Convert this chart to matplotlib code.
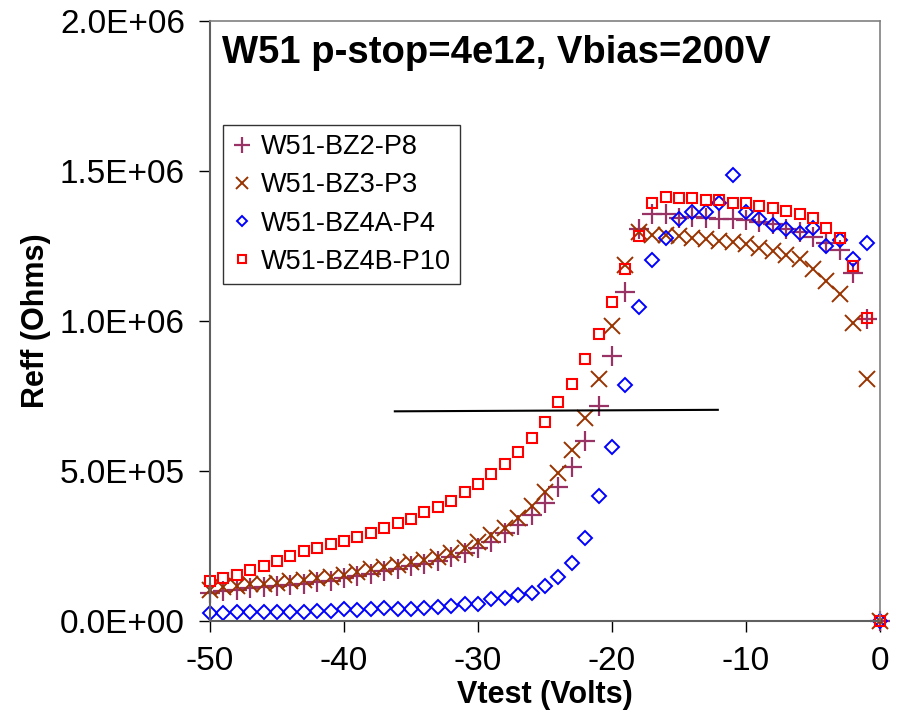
import numpy as np
import matplotlib
matplotlib.use("Agg")
import matplotlib.pyplot as plt
from matplotlib.ticker import FuncFormatter

plt.rcParams['font.family'] = ['Liberation Sans', 'DejaVu Sans']
plt.rcParams['axes.unicode_minus'] = False

# Vtest steps, -50 V .. 0 V
vtest = list(range(-50, 1))

# Reff in units of 1E6 Ohms
bz2_p8 = [0.095, 0.100, 0.105, 0.110, 0.113, 0.116, 0.120, 0.125, 0.130, 0.135,
          0.142, 0.150, 0.158, 0.166, 0.174, 0.182, 0.190, 0.200, 0.214, 0.226,
          0.245, 0.265, 0.292, 0.320, 0.353, 0.394, 0.446, 0.512, 0.601, 0.718,
          0.884, 1.096, 1.307, 1.356, 1.356, 1.342, 1.348, 1.342, 1.340, 1.340,
          1.337, 1.331, 1.323, 1.307, 1.298, 1.281, 1.260, 1.237, 1.159, 1.006,
          0.0]
bz3_p3 = [0.105, 0.112, 0.118, 0.122, 0.125, 0.128, 0.132, 0.136, 0.142, 0.146,
          0.152, 0.162, 0.172, 0.180, 0.188, 0.196, 0.203, 0.212, 0.228, 0.242,
          0.262, 0.288, 0.309, 0.342, 0.383, 0.431, 0.494, 0.570, 0.678, 0.807,
          0.984, 1.187, 1.298, 1.287, 1.287, 1.283, 1.278, 1.272, 1.268, 1.262,
          1.256, 1.242, 1.234, 1.220, 1.206, 1.173, 1.134, 1.089, 0.994, 0.807,
          0.0]
bz4a_p4 = [0.028, 0.028, 0.029, 0.031, 0.031, 0.031, 0.031, 0.031, 0.034, 0.034,
           0.039, 0.037, 0.039, 0.044, 0.041, 0.041, 0.044, 0.046, 0.050, 0.056,
           0.056, 0.072, 0.076, 0.087, 0.094, 0.116, 0.148, 0.192, 0.278, 0.418,
           0.581, 0.787, 1.048, 1.203, 1.276, 1.340, 1.362, 1.364, 1.392, 1.487,
           1.362, 1.340, 1.320, 1.307, 1.292, 1.311, 1.251, 1.270, 1.206, 1.261,
           0.0]
bz4b_p10 = [0.134, 0.144, 0.153, 0.170, 0.184, 0.201, 0.218, 0.233, 0.242, 0.256,
            0.268, 0.279, 0.294, 0.309, 0.328, 0.340, 0.363, 0.381, 0.401, 0.431,
            0.457, 0.490, 0.522, 0.564, 0.611, 0.663, 0.729, 0.789, 0.873, 0.956,
            1.062, 1.172, 1.284, 1.392, 1.414, 1.409, 1.409, 1.403, 1.403, 1.392,
            1.392, 1.383, 1.378, 1.367, 1.356, 1.342, 1.309, 1.276, 1.184, 1.009,
            0.0]

# drawn reference line
line_v = [-36.2, -12.1]
line_r = [0.699, 0.704]

scale = 1e6
fig = plt.figure(figsize=(8.97, 7.23), dpi=100, facecolor='white')
ax = fig.add_axes([0.234, 0.141, 0.747, 0.830])

v = np.array(vtest)
ax.plot(v, np.array(bz2_p8) * scale, linestyle='none', marker='+', ms=15, mew=1.6,
        color='#993366', label='W51-BZ2-P8', clip_on=False)
ax.plot(v, np.array(bz3_p3) * scale, linestyle='none', marker='x', ms=12, mew=1.4,
        color='#993300', label='W51-BZ3-P3', clip_on=False)
ax.plot(v, np.array(bz4a_p4) * scale, linestyle='none', marker='D', ms=7, mew=1.4,
        markerfacecolor='none', markeredgecolor='#0000FF', label='W51-BZ4A-P4', clip_on=False)
ax.plot(v, np.array(bz4b_p10) * scale, linestyle='none', marker='s', ms=7, mew=1.5,
        markerfacecolor='none', markeredgecolor='#FF0000', label='W51-BZ4B-P10', clip_on=False)
ax.plot(line_v, np.array(line_r) * scale, color='black', lw=1.5)

ax.set_xlim(-50, 0)
ax.set_ylim(0, 2.0e6)
ax.set_xticks([-50, -40, -30, -20, -10, 0])
ax.set_yticks([0, 0.5e6, 1.0e6, 1.5e6, 2.0e6])
ax.yaxis.set_major_formatter(FuncFormatter(lambda y, p: '%.1E' % y))
ax.tick_params(direction='out', length=8, width=1, labelsize=24)
ax.tick_params(axis='y', pad=10)
ax.tick_params(axis='x', pad=10)

for s in ['top', 'right']:
    ax.spines[s].set_color('#808080')
    ax.spines[s].set_linewidth(1.2)
for s in ['left', 'bottom']:
    ax.spines[s].set_color('#606060')
    ax.spines[s].set_linewidth(1.5)

ax.set_xlabel('Vtest (Volts)', fontsize=22, fontweight='bold', labelpad=2)
ax.set_ylabel('Reff (Ohms)', fontsize=22, fontweight='bold', labelpad=6)
ax.text(0.018, 0.977, 'W51 p-stop=4e12, Vbias=200V', transform=ax.transAxes,
        fontsize=27.5, fontweight='bold', va='top', ha='left')

leg = ax.legend(loc='upper left', bbox_to_anchor=(0.019, 0.827), fontsize=19.5,
                frameon=True, fancybox=False, edgecolor='black', handlelength=0.7,
                handletextpad=0.35, borderpad=0.35, labelspacing=0.45, markerscale=0.75,
                borderaxespad=0)
leg.get_frame().set_linewidth(1.0)

fig.savefig('out.png', dpi=100, facecolor='white')
